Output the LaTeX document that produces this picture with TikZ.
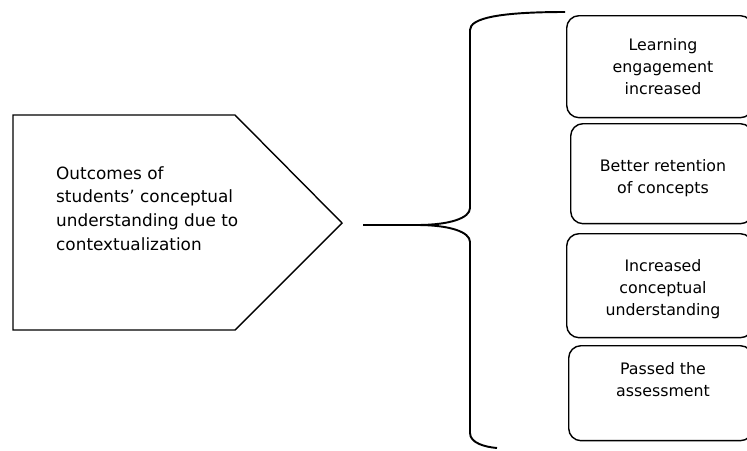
\documentclass[tikz,border=0pt]{standalone}
\usepackage{fontspec}
\setmainfont{DejaVu Sans}
\usepackage{tikz}

\begin{document}
\begin{tikzpicture}[x=0.02cm, y=-0.02cm,
	outline/.style={line width=0.8pt},
	bracket/.style={line width=1.1pt},
	result/.style={draw, line width=0.8pt, rounded corners=7pt, inner sep=0, anchor=north west},
	label/.style={align=center, font=\fontsize{9}{12.5}\selectfont}]
	% Frame of the picture:
	\useasboundingbox (0, 0) rectangle (747, 450);
	\clip (0, 0) rectangle (747, 450);
	% Paths, nodes and wires:
	\draw[outline] (13, 115) -- (235, 115) -- (342, 223) -- (235, 330) -- (13, 330) -- cycle;
	\node[label, align=left, anchor=north west, font=\fontsize{9.6}{13.6}\selectfont] (cause) at (50, 160) {Outcomes of\\students’ conceptual\\understanding due to\\contextualization};
	\coordinate (tip) at (363, 225);
	\draw[bracket] (tip) -- (417, 225) .. controls (450, 225) and (470, 218) .. (470, 208) -- (470, 30) .. controls (470, 18) and (500, 12) .. (565, 12);
	\draw[bracket] (417, 225) .. controls (450, 225) and (470, 232) .. (470, 242) -- (470, 433) .. controls (470, 443) and (485, 447) .. (497, 448);
	\node[result, minimum width=3.72cm, minimum height=2.04cm] (engage) at (566, 15) {};
	\node[result, minimum width=3.64cm, minimum height=2cm] (retain) at (570, 123) {};
	\node[result, minimum width=3.72cm, minimum height=2.08cm] (concept) at (566, 233) {};
	\node[result, minimum width=3.68cm, minimum height=1.9cm] (assess) at (568, 345) {};
	\node[label] (engagetext) at (663, 67) {Learning\\engagement\\increased};
	\node[label] (retaintext) at (663, 178) {Better retention\\of concepts};
	\node[label] (concepttext) at (663, 289) {Increased\\conceptual\\understanding};
	\node[label] (assesstext) at (663, 380) {Passed the\\assessment};
\end{tikzpicture}
\end{document}
